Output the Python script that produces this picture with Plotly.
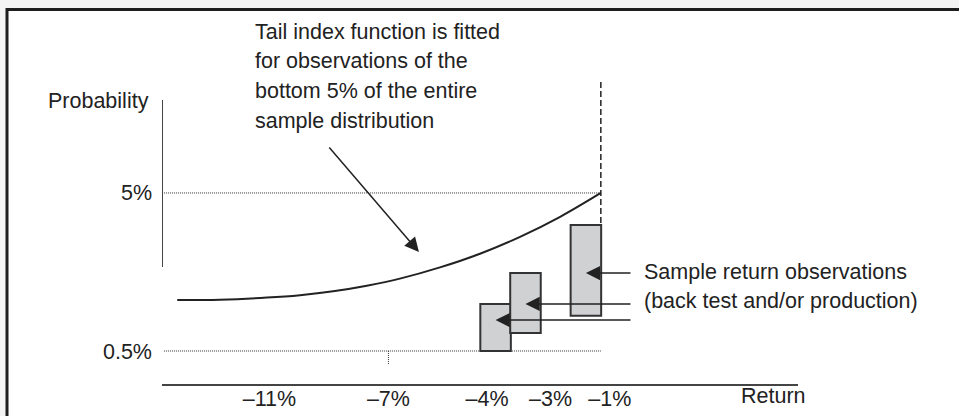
"""
Tail index schematic: fitted tail curve with sample return observations.
Writes out.html.
"""

import plotly.graph_objects as go

# schematic units: x runs 0..100 along the return axis (not to scale),
# y is probability in percent
CURVE_X = [2.4, 9.1, 16.5, 21.7, 26.9, 32.2, 37.4, 43.7, 50.0, 56.3, 62.6, 69.0]
CURVE_Y = [1.95, 1.96, 2.02, 2.09, 2.20, 2.36, 2.56, 2.88, 3.27, 3.75, 4.32, 5.00]

BAR_X = [52.45, 57.15, 66.65]
BAR_LOW = [0.50, 1.01, 1.50]
BAR_HIGH = [1.84, 2.72, 4.09]

CUTOFF_X = 69.0
PROB_LEVELS = [0.5, 5]
PROB_LABELS = ["0.5%", "5%"]
RETURN_LABELS = ["–11%", "–7%", "–4%", "–3%", "–1%"]

TAIL_NOTE = [
    "Tail index function is fitted",
    "for observations of the",
    "bottom 5% of the entire",
    "sample distribution",
]
SAMPLE_NOTE = ["Sample return observations", "(back test and/or production)"]

FONT = "Liberation Sans, Arial, Helvetica, sans-serif"
INK = "#222222"


def main() -> None:
    tick_pos = [16.9, 35.6, 51.1, 61.1, 70.4]

    fig = go.Figure()

    # dotted reference levels
    for level in PROB_LEVELS:
        fig.add_trace(go.Scatter(
            x=[0.3, CUTOFF_X], y=[level, level], mode="lines",
            line=dict(color="#333333", width=1, dash="1px,1px"),
            hoverinfo="skip",
        ))
    fig.add_trace(go.Scatter(
        x=[tick_pos[1], tick_pos[1]], y=[PROB_LEVELS[0], 0.1], mode="lines",
        line=dict(color="#333333", width=1, dash="1px,1px"), hoverinfo="skip",
    ))
    # tail cutoff
    fig.add_trace(go.Scatter(
        x=[CUTOFF_X, CUTOFF_X], y=[8.16, BAR_HIGH[-1]], mode="lines",
        line=dict(color=INK, width=1.5, dash="6px,3px"), hoverinfo="skip",
    ))

    fig.add_trace(go.Scatter(
        x=CURVE_X, y=CURVE_Y, mode="lines",
        line=dict(color=INK, width=2, shape="spline", smoothing=1),
        hoverinfo="skip",
    ))

    fig.add_trace(go.Bar(
        x=BAR_X,
        y=[h - l for h, l in zip(BAR_HIGH, BAR_LOW)],
        base=BAR_LOW,
        width=4.8,
        marker=dict(color="#d0d1d3", line=dict(color="#333333", width=2)),
        hoverinfo="skip",
    ))

    # frame and y axis stub
    fig.add_shape(type="rect", xref="paper", yref="paper",
                  x0=-0.2437, x1=2, y0=-1, y1=1.0013,
                  line=dict(color="#1e1e1e", width=3), fillcolor="white",
                  layer="below")
    fig.add_shape(type="line", xref="x", yref="y", x0=0, x1=0, y0=2.89, y1=7.65,
                  line=dict(color="#444444", width=2))

    annotations = []
    for i, line in enumerate(TAIL_NOTE):
        annotations.append(dict(
            x=14.3, y=[9.57, 8.75, 7.90, 7.06][i], text=line, showarrow=False,
            xanchor="left", yanchor="middle",
        ))
    for i, line in enumerate(SAMPLE_NOTE):
        annotations.append(dict(
            x=75.4, y=[2.74, 1.93][i], text=line, showarrow=False,
            xanchor="left", yanchor="middle",
        ))
    annotations.append(dict(x=-0.0173, y=0.758, xref="paper", yref="paper",
                            text="Probability", showarrow=False,
                            xanchor="right", yanchor="middle"))
    annotations.append(dict(x=0.962, y=-0.032, xref="paper", yref="paper",
                            text="Return", showarrow=False,
                            xanchor="center", yanchor="middle"))

    arrow = dict(text="", showarrow=True, axref="x", ayref="y", arrowhead=2,
                 arrowsize=1.9, arrowwidth=1.5, arrowcolor=INK, standoff=0)
    # one arrow into each observation box, tail at the label
    for bx, ay in zip(BAR_X, [1.38, 1.84, 2.72]):
        annotations.append(dict(arrow, x=bx, y=ay, ax=73.9, ay=ay))
    annotations.append(dict(arrow, x=40.4, y=3.32, ax=26.1, ay=6.34))

    fig.update_layout(
        width=959,
        height=416,
        autosize=False,
        margin=dict(l=162, r=161, t=10, b=32, pad=0),
        paper_bgcolor="#f4f4f4",
        plot_bgcolor="white",
        showlegend=False,
        barmode="overlay",
        font=dict(family=FONT, size=21.5, color=INK),
        annotations=annotations,
        xaxis=dict(
            range=[0, 100], showgrid=False, zeroline=False,
            showline=True, linecolor="#444444", linewidth=2,
            tickvals=tick_pos, ticktext=RETURN_LABELS, ticks="",
            ticklabelstandoff=-6, automargin=False,
        ),
        yaxis=dict(
            range=[-0.44, 10.21], showgrid=False, zeroline=False,
            showline=False, tickvals=PROB_LEVELS, ticktext=PROB_LABELS,
            ticks="", ticklabelstandoff=9, automargin=False,
        ),
    )
    fig.write_html(
        "out.html",
        config={"displayModeBar": False},
        post_script="document.body.style.margin = '0';",
    )


if __name__ == "__main__":
    main()
